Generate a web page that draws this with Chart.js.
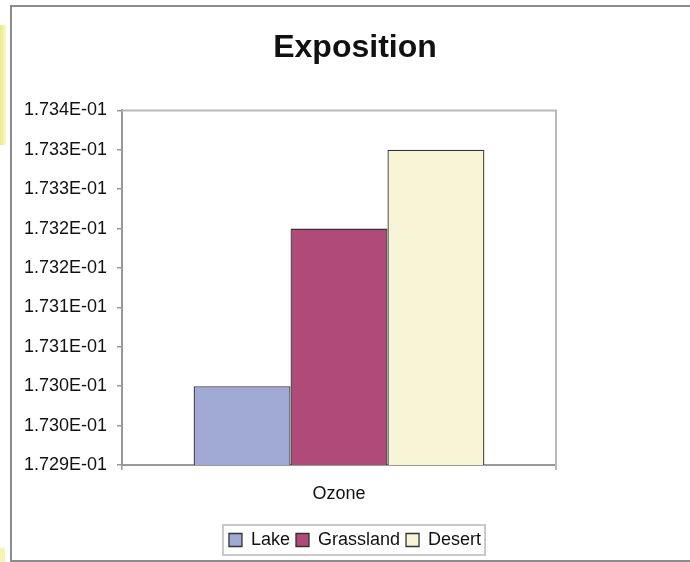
<!DOCTYPE html>
<html>
<head>
<meta charset="utf-8">
<script src="https://cdn.jsdelivr.net/npm/chart.js@4/dist/chart.umd.min.js"></script>
<style>
  html, body { margin: 0; padding: 0; background: #fff; overflow: hidden; }
  #wrap { position: relative; width: 690px; height: 562px; }
  #deco1 { position: absolute; left: 0; top: 25px; width: 6px; height: 120px;
           background: linear-gradient(to right, #e9e98a, #f8f8cc); }
  #deco2 { position: absolute; left: 0; top: 548px; width: 5px; height: 14px; background: #f4f4b8; }
  #frame { position: absolute; left: 10px; top: 5px; width: 700px; height: 553px;
           border-left: 2px solid #8c8c8c; border-top: 2px solid #8c8c8c; border-bottom: 2px solid #8c8c8c; }
  #c { position: absolute; left: 0; top: 0; }
</style>
</head>
<body>
<div id="wrap">
  <div id="deco1"></div>
  <div id="deco2"></div>
  <div id="frame"></div>
  <canvas id="c" width="690" height="562"></canvas>
</div>
<script>
  'use strict';

  const categories = ['Ozone'];
  const seriesNames = ['Lake', 'Grassland', 'Desert'];
  const lakeValues = [0.17300];
  const grasslandValues = [0.17320];
  const desertValues = [0.17330];
  const seriesColors = ['#a0aad5', '#b04a78', '#f7f5d5'];
  const yTickLabels = ['1.729E-01', '1.730E-01', '1.730E-01', '1.731E-01', '1.731E-01',
                       '1.732E-01', '1.732E-01', '1.733E-01', '1.733E-01', '1.734E-01'];

  const FONT = '"Liberation Sans", Arial, sans-serif';

  // plot-area frame (top/right) and the boxed legend
  const framePlugin = {
    id: 'framePlugin',
    afterDraw(chart) {
      const ctx = chart.ctx;
      const a = chart.chartArea;
      ctx.save();
      ctx.strokeStyle = '#b8b8b8';
      ctx.lineWidth = 2;
      ctx.beginPath();
      ctx.moveTo(a.left, a.top);
      ctx.lineTo(a.right, a.top);
      ctx.lineTo(a.right, a.bottom + 5);
      ctx.stroke();

      const boxes = chart.legend.legendHitBoxes;
      if (boxes && boxes.length) {
        let l = Infinity, t = Infinity, r = -Infinity, b = -Infinity;
        boxes.forEach(h => {
          l = Math.min(l, h.left); t = Math.min(t, h.top);
          r = Math.max(r, h.left + h.width); b = Math.max(b, h.top + h.height);
        });
        ctx.strokeStyle = '#b8b8b8';
        ctx.lineWidth = 1.5;
        ctx.strokeRect(l - 6, t - 6, r - l + 10, b - t + 12);
      }
      ctx.restore();
    }
  };

  const data = {
    labels: categories,
    datasets: [lakeValues, grasslandValues, desertValues].map((vals, i) => ({
      label: seriesNames[i],
      data: vals,
      backgroundColor: seriesColors[i],
      borderColor: '#333333',
      borderWidth: 1.3,
      categoryPercentage: 0.67,
      barPercentage: 1.0
    }))
  };

  new Chart(document.getElementById('c').getContext('2d'), {
    type: 'bar',
    data,
    plugins: [framePlugin],
    options: {
      responsive: false,
      animation: false,
      layout: { padding: { left: 20, right: 0, top: 0, bottom: 3 } },
      plugins: {
        title: {
          display: true,
          text: 'Exposition',
          color: '#111',
          font: { family: FONT, size: 32, weight: 'bold' },
          padding: { top: 29, bottom: 43 }
        },
        legend: {
          position: 'bottom',
          labels: {
            color: '#111',
            font: { family: FONT, size: 18 },
            boxWidth: 13,
            boxHeight: 13,
            padding: 6,
            useBorderRadius: false
          }
        },
        tooltip: { enabled: false }
      },
      scales: {
        x: {
          grid: { display: true, drawOnChartArea: false, offset: true, tickLength: 5, color: '#999', lineWidth: 1.5 },
          border: { display: true, color: '#999', width: 2 },
          ticks: { color: '#111', font: { family: FONT, size: 18 }, padding: 13 },
          afterFit(scale) { scale.height = 60; }
        },
        y: {
          min: 0.1729,
          max: 0.17335,
          grid: { display: true, drawOnChartArea: false, tickLength: 5, color: '#999', lineWidth: 1.5 },
          border: { display: true, color: '#999', width: 2 },
          ticks: {
            stepSize: 0.00005,
            color: '#111',
            font: { family: FONT, size: 18 },
            padding: 10,
            callback: (v, i) => yTickLabels[i]
          },
          afterFit(scale) { scale.width = 102; }
        },
        yRight: {
          axis: 'y',
          position: 'right',
          grid: { display: false },
          border: { display: false },
          ticks: { display: false },
          afterFit(scale) { scale.width = 134; }
        }
      }
    }
  });
</script>
</body>
</html>
